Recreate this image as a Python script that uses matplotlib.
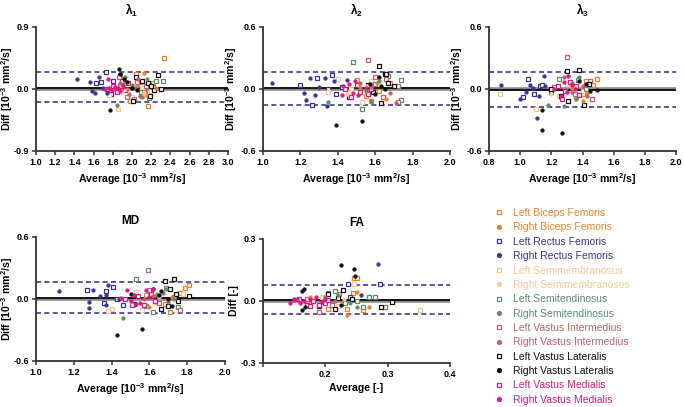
import matplotlib
matplotlib.use("Agg")
import matplotlib.pyplot as plt
from matplotlib.lines import Line2D

plt.rcParams['font.family'] = ['Liberation Sans', 'DejaVu Sans']
plt.rcParams['mathtext.fontset'] = 'custom'
plt.rcParams['mathtext.rm'] = 'Liberation Sans:bold'
plt.rcParams['mathtext.it'] = 'Liberation Sans:bold'
plt.rcParams['mathtext.bf'] = 'Liberation Sans:bold'
plt.rcParams['mathtext.default'] = 'rm'

# ---------------- series ----------------
series_names = ["Left Biceps Femoris", "Right Biceps Femoris",
                "Left Rectus Femoris", "Right Rectus Femoris",
                "Left Semimembranosus", "Right Semimembranosus",
                "Left Semitendinosus", "Right Semitendinosus",
                "Left Vastus Intermedius", "Right Vastus Intermedius",
                "Left Vastus Lateralis", "Right Vastus Lateralis",
                "Left Vastus Medialis", "Right Vastus Medialis"]
series_keys = ["LBF", "RBF", "LRF", "RRF", "LSM", "RSM", "LST", "RST",
               "LVI", "RVI", "LVL", "RVL", "LVM", "RVM"]

# ---------------- lambda 1 (average, diff) ----------------
lam1_LBF = [(2.33, 0.45), (2.17, -0.25), (1.98, -0.18), (2.08, 0.10), (2.14, -0.05), (2.22, 0.08), (2.04, 0.22)]
lam1_RBF = [(2.12, 0.23), (2.05, 0.05), (2.15, -0.08), (2.25, 0.02), (1.95, 0.00)]
lam1_LRF = [(1.68, 0.10), (1.73, 0.24), (1.78, -0.07), (1.80, 0.11), (1.62, 0.08)]
lam1_RRF = [(1.43, 0.15), (1.56, 0.10), (1.58, -0.03), (1.61, -0.06), (1.66, 0.17), (1.70, 0.02), (1.74, -0.06)]
lam1_LSM = [(1.76, -0.09), (1.85, -0.29), (2.00, -0.12), (2.10, 0.02), (1.95, 0.08), (2.20, -0.03)]
lam1_RSM = [(1.90, -0.05), (2.02, 0.04), (2.12, -0.06)]
lam1_LST = [(2.32, 0.11), (2.25, 0.12), (2.18, -0.13), (2.09, -0.05), (2.22, 0.03), (1.88, 0.20)]
lam1_RST = [(1.84, -0.23), (2.16, 0.14), (2.00, 0.06), (2.08, -0.10), (1.93, 0.18)]
lam1_LVI = [(1.86, 0.18), (1.95, -0.12), (2.05, 0.10), (2.12, -0.04), (2.02, -0.15), (1.90, 0.05), (2.15, 0.05)]
lam1_RVI = [(1.88, 0.08), (1.97, -0.07), (2.03, 0.02), (2.10, -0.12), (1.93, 0.12), (2.06, 0.15)]
lam1_LVL = [(2.01, -0.17), (2.10, 0.11), (2.17, 0.08), (2.20, 0.05), (2.23, -0.02), (2.27, 0.20), (2.30, 0.00), (2.19, -0.10), (2.04, 0.18)]
lam1_RVL = [(1.77, -0.30), (1.86, 0.29), (1.88, 0.22), (1.92, 0.14), (1.95, 0.10), (2.00, 0.02), (2.05, -0.02)]
lam1_LVM = [(1.74, 0.00), (1.80, 0.05), (1.84, -0.05), (1.87, 0.04), (1.93, -0.01), (1.96, 0.08), (1.90, 0.12)]
lam1_RVM = [(1.72, 0.00), (1.76, 0.02), (1.79, -0.02), (1.82, 0.03), (1.85, 0.01), (1.88, -0.03), (1.91, 0.05), (1.75, 0.14)]

# ---------------- lambda 2 ----------------
lam2_LBF = [(1.50, 0.09), (1.58, -0.12), (1.68, 0.06), (1.55, -0.07), (1.62, -0.02)]
lam2_RBF = [(1.52, 0.02), (1.61, 0.06), (1.66, -0.10)]
lam2_LRF = [(1.20, 0.04), (1.26, -0.15), (1.29, 0.11), (1.37, 0.14), (1.39, -0.05), (1.35, 0.00), (1.42, 0.02)]
lam2_RRF = [(1.05, 0.06), (1.22, -0.04), (1.23, -0.11), (1.25, 0.11), (1.28, -0.06), (1.30, 0.02), (1.33, 0.11), (1.34, -0.16), (1.38, 0.08), (1.45, 0.09)]
lam2_LSM = [(1.40, 0.10), (1.53, -0.13), (1.47, 0.00), (1.58, 0.08), (1.35, -0.03)]
lam2_RSM = [(1.45, -0.05), (1.55, 0.03)]
lam2_LST = [(1.48, 0.26), (1.74, 0.09), (1.74, -0.11), (1.53, -0.19), (1.60, 0.05), (1.67, 0.13)]
lam2_RST = [(1.35, -0.13), (1.55, -0.02), (1.62, 0.08), (1.58, -0.12)]
lam2_LVI = [(1.56, 0.28), (1.72, -0.13), (1.72, 0.03), (1.60, 0.12), (1.64, -0.08), (1.66, 0.10)]
lam2_RVI = [(1.58, 0.02), (1.52, 0.06), (1.68, -0.04), (1.71, -0.14)]
lam2_LVL = [(1.62, 0.22), (1.65, 0.15), (1.66, 0.15), (1.46, -0.08), (1.59, -0.03), (1.63, -0.14), (1.70, 0.03), (1.67, 0.06), (1.56, 0.04)]
lam2_RVL = [(1.39, -0.35), (1.53, -0.31), (1.57, 0.05), (1.60, -0.05), (1.63, 0.03), (1.65, 0.00), (1.62, 0.12)]
lam2_LVM = [(1.44, 0.00), (1.52, -0.03), (1.56, -0.05), (1.50, 0.04), (1.58, 0.00), (1.47, -0.08)]
lam2_RVM = [(1.42, -0.06), (1.46, 0.05), (1.48, -0.04), (1.51, -0.06), (1.55, 0.01), (1.49, 0.08), (1.43, 0.03)]

# ---------------- lambda 3 ----------------
lam3_LBF = [(1.49, 0.10), (1.42, 0.08), (1.40, -0.05), (1.47, 0.04), (1.36, -0.08)]
lam3_RBF = [(1.40, -0.12), (1.43, -0.04), (1.33, 0.00)]
lam3_LRF = [(1.02, -0.08), (1.05, 0.10), (1.09, -0.05), (1.13, 0.03), (1.14, 0.04), (1.20, -0.03)]
lam3_RRF = [(0.88, 0.04), (1.00, -0.10), (1.04, -0.03), (1.06, 0.04), (1.08, 0.01), (1.12, -0.07), (1.11, -0.28), (1.15, 0.13), (1.16, 0.03)]
lam3_LSM = [(0.87, -0.05), (1.10, -0.19), (1.25, -0.07), (1.30, 0.05), (1.40, -0.02)]
lam3_RSM = [(1.20, -0.05), (1.35, 0.02)]
lam3_LST = [(1.25, 0.10), (1.46, -0.10), (1.37, 0.09), (1.42, 0.00)]
lam3_RST = [(1.18, -0.15), (1.28, -0.16), (1.38, 0.12), (1.36, -0.10), (1.33, 0.06)]
lam3_LVI = [(1.30, 0.31), (1.45, 0.08), (1.46, -0.10), (1.35, -0.05), (1.22, 0.02)]
lam3_RVI = [(1.28, 0.12), (1.40, 0.03), (1.43, -0.07), (1.33, -0.03)]
lam3_LVL = [(1.30, 0.17), (1.38, 0.18), (1.41, -0.15), (1.31, -0.12), (1.26, -0.07), (1.20, 0.00), (1.44, 0.05)]
lam3_RVL = [(1.14, -0.20), (1.14, -0.40), (1.27, -0.43), (1.38, 0.08), (1.42, 0.05), (1.45, -0.02), (1.49, -0.01)]
lam3_LVM = [(1.24, 0.03), (1.29, -0.02), (1.32, 0.07), (1.36, 0.03), (1.38, -0.06), (1.27, -0.10)]
lam3_RVM = [(1.22, 0.00), (1.28, 0.07), (1.30, -0.03), (1.33, 0.04), (1.35, 0.00), (1.26, -0.07), (1.31, 0.13)]

# ---------------- MD ----------------
md_LBF = [(1.79, 0.11), (1.81, 0.14), (1.71, -0.13), (1.58, 0.04), (1.76, 0.06), (1.68, -0.05)]
md_RBF = [(1.64, 0.05), (1.72, 0.02), (1.60, -0.08)]
md_LRF = [(1.27, 0.09), (1.36, -0.04), (1.37, 0.08), (1.41, 0.12), (1.43, 0.00), (1.46, -0.06)]
md_RRF = [(1.12, 0.08), (1.28, -0.09), (1.28, -0.03), (1.30, 0.09), (1.34, 0.03), (1.37, 0.04), (1.38, 0.14), (1.37, -0.06), (1.44, 0.00)]
md_LSM = [(1.38, -0.12), (1.40, -0.10), (1.53, 0.07), (1.56, -0.11), (1.63, -0.03), (1.78, 0.05)]
md_RSM = [(1.50, -0.03), (1.65, 0.02)]
md_LST = [(1.53, 0.19), (1.62, -0.13), (1.69, 0.11), (1.75, -0.08), (1.58, -0.07)]
md_RST = [(1.46, -0.18), (1.64, 0.04), (1.69, 0.10), (1.73, 0.00)]
md_LVI = [(1.59, 0.28), (1.76, -0.11), (1.60, 0.09), (1.73, 0.02), (1.65, -0.04)]
md_RVI = [(1.57, 0.00), (1.67, 0.06), (1.70, -0.03), (1.62, 0.03)]
md_LVL = [(1.68, 0.17), (1.73, 0.19), (1.81, 0.03), (1.74, 0.05), (1.70, -0.07), (1.66, -0.10), (1.75, -0.02), (1.52, -0.05), (1.71, 0.10)]
md_RVL = [(1.43, -0.35), (1.56, -0.29), (1.62, 0.10), (1.65, 0.04), (1.70, 0.00), (1.66, 0.08), (1.72, -0.07), (1.50, 0.05)]
md_LVM = [(1.47, 0.00), (1.51, -0.06), (1.54, 0.03), (1.57, -0.06), (1.61, 0.05), (1.63, -0.02)]
md_RVM = [(1.48, 0.09), (1.50, -0.02), (1.53, -0.05), (1.55, -0.04), (1.58, 0.09), (1.60, 0.02), (1.52, 0.04), (1.62, 0.10), (1.45, 0.01)]

# ---------------- FA ----------------
fa_LBF = [(0.246, 0.11), (0.250, 0.11), (0.245, 0.04), (0.260, -0.045), (0.235, -0.04), (0.205, -0.04), (0.170, 0.00)]
fa_RBF = [(0.235, -0.07), (0.270, -0.03), (0.250, 0.045), (0.175, 0.02)]
fa_LRF = [(0.288, 0.08), (0.236, 0.08), (0.240, 0.02)]
fa_RRF = [(0.285, 0.18), (0.257, 0.03), (0.150, 0.01)]
fa_LSM = [(0.352, -0.045), (0.246, 0.08), (0.220, -0.025), (0.195, 0.02)]
fa_RSM = [(0.230, 0.01)]
fa_LST = [(0.270, 0.02), (0.280, 0.02), (0.295, -0.03), (0.260, -0.03), (0.215, 0.05), (0.232, -0.01), (0.250, 0.00)]
fa_RST = [(0.250, -0.03), (0.220, 0.03), (0.240, -0.01)]
fa_LVI = [(0.190, -0.055), (0.205, 0.04), (0.222, 0.035), (0.210, -0.02), (0.170, 0.01)]
fa_RVI = [(0.200, 0.02), (0.215, 0.00)]
fa_LVL = [(0.307, -0.005), (0.290, -0.03), (0.228, 0.055), (0.220, 0.015), (0.243, 0.01), (0.215, -0.04), (0.205, 0.035), (0.190, -0.025)]
fa_RVL = [(0.225, 0.175), (0.246, 0.157), (0.247, 0.12), (0.165, 0.06), (0.162, 0.05), (0.163, -0.045), (0.168, -0.03), (0.225, -0.02)]
fa_LVM = [(0.158, 0.01), (0.170, -0.02), (0.180, 0.00), (0.190, -0.02), (0.200, -0.01), (0.205, 0.005), (0.175, -0.025)]
fa_RVM = [(0.143, -0.01), (0.150, 0.005), (0.155, 0.01), (0.160, -0.01), (0.165, 0.00), (0.175, 0.01), (0.185, 0.02), (0.195, -0.005), (0.200, 0.01)]

# ---------------- bias and limits of agreement ----------------
lam1_bias, lam1_loa_lo, lam1_loa_hi = 0.02, -0.19, 0.24
lam2_bias, lam2_loa_lo, lam2_loa_hi = 0.005, -0.15, 0.16
lam3_bias, lam3_loa_lo, lam3_loa_hi = -0.005, -0.175, 0.16
md_bias, md_loa_lo, md_loa_hi = 0.01, -0.14, 0.165
fa_bias, fa_loa_lo, fa_loa_hi = 0.005, -0.062, 0.079

# ---------------- axis settings ----------------
lam1_xticks = [1.0, 1.2, 1.4, 1.6, 1.8, 2.0, 2.2, 2.4, 2.6, 2.8, 3.0]
lam1_yticks = [-0.9, 0.0, 0.9]
lam2_xticks = [1.0, 1.2, 1.4, 1.6, 1.8, 2.0]
lam2_yticks = [-0.6, 0.0, 0.6]
lam3_xticks = [0.8, 1.0, 1.2, 1.4, 1.6, 1.8, 2.0]
lam3_yticks = [-0.6, 0.0, 0.6]
md_xticks = [1.0, 1.2, 1.4, 1.6, 1.8, 2.0]
md_yticks = [-0.6, 0.0, 0.6]
fa_xticks = [0.1, 0.2, 0.3, 0.4]
fa_xticklabels = ["", "0.2", "0.3", "0.4"]
fa_yticks = [-0.3, 0.0, 0.3]

colors = {"BF": "#E8822E", "RF": "#3A3391", "SM": "#F5C89A", "ST": "#5E8C6A",
          "VI": "#B9646F", "VL": "#111111", "VM": "#E0197D"}

W, H = 684, 407
fig = plt.figure(figsize=(W / 100, H / 100), dpi=100)


def ax_at(l, r, t, b):
    return fig.add_axes([l / W, 1 - b / H, (r - l) / W, (b - t) / H])


panels = [
    dict(pos=(36, 228, 27, 151), title="λ$_1$", data=[lam1_LBF, lam1_RBF, lam1_LRF, lam1_RRF, lam1_LSM, lam1_RSM, lam1_LST, lam1_RST, lam1_LVI, lam1_RVI, lam1_LVL, lam1_RVL, lam1_LVM, lam1_RVM],
         bias=(lam1_bias, lam1_loa_lo, lam1_loa_hi), xt=lam1_xticks, xtl=None, yt=lam1_yticks,
         xl="Average [10$^{-3}$ mm$^2$/s]", yl="Diff [10$^{-3}$ mm$^2$/s]", yoff=21),
    dict(pos=(263, 450, 27, 151), title="λ$_2$", data=[lam2_LBF, lam2_RBF, lam2_LRF, lam2_RRF, lam2_LSM, lam2_RSM, lam2_LST, lam2_RST, lam2_LVI, lam2_RVI, lam2_LVL, lam2_RVL, lam2_LVM, lam2_RVM],
         bias=(lam2_bias, lam2_loa_lo, lam2_loa_hi), xt=lam2_xticks, xtl=None, yt=lam2_yticks,
         xl="Average [10$^{-3}$ mm$^2$/s]", yl="Diff [10$^{-3}$ mm$^2$/s]", yoff=24),
    dict(pos=(489, 676, 27, 151), title="λ$_3$", data=[lam3_LBF, lam3_RBF, lam3_LRF, lam3_RRF, lam3_LSM, lam3_RSM, lam3_LST, lam3_RST, lam3_LVI, lam3_RVI, lam3_LVL, lam3_RVL, lam3_LVM, lam3_RVM],
         bias=(lam3_bias, lam3_loa_lo, lam3_loa_hi), xt=lam3_xticks, xtl=None, yt=lam3_yticks,
         xl="Average [10$^{-3}$ mm$^2$/s]", yl="Diff [10$^{-3}$ mm$^2$/s]", yoff=24),
    dict(pos=(36, 225, 237, 361), title="MD", data=[md_LBF, md_RBF, md_LRF, md_RRF, md_LSM, md_RSM, md_LST, md_RST, md_LVI, md_RVI, md_LVL, md_RVL, md_LVM, md_RVM],
         bias=(md_bias, md_loa_lo, md_loa_hi), xt=md_xticks, xtl=None, yt=md_yticks,
         xl="Average [10$^{-3}$ mm$^2$/s]", yl="Diff [10$^{-3}$ mm$^2$/s]", yoff=21),
    dict(pos=(263, 450, 239, 363), title="FA", data=[fa_LBF, fa_RBF, fa_LRF, fa_RRF, fa_LSM, fa_RSM, fa_LST, fa_RST, fa_LVI, fa_RVI, fa_LVL, fa_RVL, fa_LVM, fa_RVM],
         bias=(fa_bias, fa_loa_lo, fa_loa_hi), xt=fa_xticks, xtl=fa_xticklabels, yt=fa_yticks,
         xl="Average [-]", yl="Diff [-]", yoff=24),
]

loa_color = "#3C3A8E"
spine_color = "#333333"

for p in panels:
    ax = ax_at(*p["pos"])
    ax.set_xlim(p["xt"][0], p["xt"][-1])
    ax.set_ylim(p["yt"][0], p["yt"][-1])
    bias, lo, hi = p["bias"]
    ax.axhline(0, color="#8a8a8a", lw=2.6, zorder=1)
    ax.axhline(bias, color="black", lw=1.2, zorder=2)
    ax.axhline(lo, color=loa_color, lw=1.2, ls=(0, (3, 2)), zorder=2)
    ax.axhline(hi, color=loa_color, lw=1.2, ls=(0, (3, 2)), zorder=2)
    for key, pts in zip(series_keys, p["data"]):
        c = colors[key[1:]]
        xs = [q[0] for q in pts]
        ys = [q[1] for q in pts]
        if key[0] == "L":
            ax.plot(xs, ys, ls="none", marker="s", ms=3.5, mfc="white", mec=c, mew=0.9, zorder=3)
        else:
            ax.plot(xs, ys, ls="none", marker="o", ms=2.7, mfc=c, mec=c, mew=0.3, zorder=4)
    for s in ["top", "right"]:
        ax.spines[s].set_visible(False)
    for s in ["left", "bottom"]:
        ax.spines[s].set_color(spine_color)
        ax.spines[s].set_linewidth(1.3)
    ax.set_xticks(p["xt"])
    if p["xtl"] is not None:
        ax.set_xticklabels(p["xtl"])
    else:
        ax.set_xticklabels([f"{v:.1f}" for v in p["xt"]])
    ax.set_yticks(p["yt"])
    ax.set_yticklabels([f"{v:.1f}" for v in p["yt"]])
    ax.tick_params(axis="both", length=3, width=1.1, color=spine_color, labelsize=6.5, pad=2)
    for lab in ax.get_xticklabels() + ax.get_yticklabels():
        lab.set_fontweight("bold")
    ax.set_xlabel(p["xl"], fontsize=7.6, fontweight="bold", labelpad=3)
    ax.set_ylabel(p["yl"], fontsize=7.6, fontweight="bold")
    width_px = p["pos"][1] - p["pos"][0]
    ax.yaxis.set_label_coords(-p["yoff"] / width_px, 0.5)
    ax.set_title(p["title"], fontsize=8.5, fontweight="bold", pad=9)

# legend
handles = []
text_colors = []
for key in series_keys:
    c = colors[key[1:]]
    text_colors.append(c)
    if key[0] == "L":
        handles.append(Line2D([], [], ls="none", marker="s", ms=3.5, mfc="white", mec=c, mew=0.9))
    else:
        handles.append(Line2D([], [], ls="none", marker="o", ms=2.7, mfc=c, mec=c))
leg = fig.legend(handles, series_names, loc="upper left", bbox_to_anchor=(494 / W, 1 - 208 / H),
                 frameon=False, fontsize=7.5, labelspacing=0.42, handlelength=1.0,
                 handletextpad=0.8, borderaxespad=0, borderpad=0, labelcolor=text_colors)

fig.savefig("out.png", dpi=100)
